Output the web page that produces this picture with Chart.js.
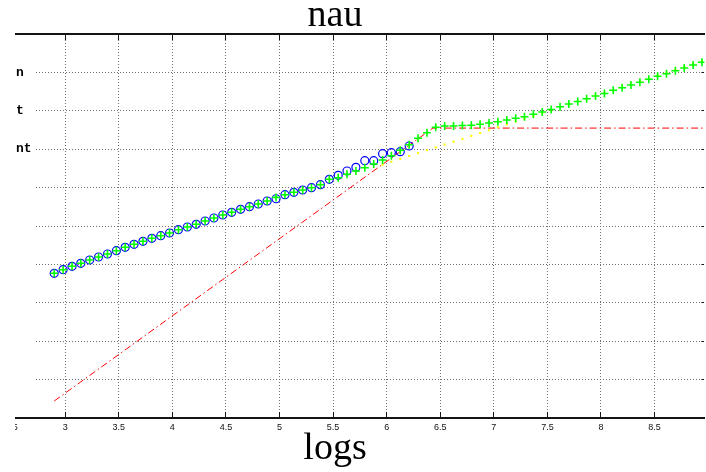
<!DOCTYPE html>
<html>
<head>
<meta charset="utf-8">
<script src="https://cdn.jsdelivr.net/npm/chart.js@4/dist/chart.umd.min.js"></script>
<style>
  html, body { margin: 0; padding: 0; background: #fff; overflow: hidden; }
  #wrap { position: relative; width: 706px; height: 472px; overflow: hidden; background: #fff; }
  #c { position: absolute; left: -40px; top: 0; clip-path: inset(0 0 0 55px); }
</style>
</head>
<body>
<div id="wrap"><canvas id="c" width="750" height="472"></canvas></div>
<script>
// x positions (logs) shared by every sampled series
const logs = [
  2.898, 2.981, 3.064, 3.146, 3.229, 3.312, 3.395, 3.478, 3.560, 3.643,
  3.726, 3.809, 3.892, 3.974, 4.057, 4.140, 4.223, 4.306, 4.388, 4.471,
  4.554, 4.637, 4.720, 4.802, 4.885, 4.968, 5.051, 5.134, 5.216, 5.299,
  5.382, 5.465, 5.548, 5.630, 5.713, 5.796, 5.879, 5.962, 6.044, 6.127,
  6.210, 6.293, 6.376, 6.458, 6.541, 6.624, 6.707, 6.790, 6.872, 6.955,
  7.038, 7.121, 7.204, 7.286, 7.369, 7.452, 7.535, 7.618, 7.700, 7.783,
  7.866, 7.949, 8.032, 8.114, 8.197, 8.280, 8.363, 8.446, 8.528, 8.611,
  8.694, 8.777, 8.860, 8.942
];

// blue circles (first 41 positions)
const circleVals = [
  3.768, 3.862, 3.951, 4.029, 4.115, 4.193, 4.271, 4.357, 4.445, 4.523,
  4.602, 4.680, 4.747, 4.818, 4.904, 4.974, 5.044, 5.130, 5.208, 5.286,
  5.357, 5.435, 5.503, 5.573, 5.651, 5.710, 5.815, 5.878, 5.938, 5.997,
  6.076, 6.216, 6.320, 6.432, 6.529, 6.701, 6.701, 6.883, 6.909, 6.935,
  7.083
];

// green crosses (all positions)
const crossVals = [
  3.768, 3.862, 3.951, 4.029, 4.115, 4.193, 4.271, 4.357, 4.445, 4.523,
  4.602, 4.680, 4.747, 4.818, 4.904, 4.974, 5.044, 5.130, 5.208, 5.286,
  5.357, 5.435, 5.503, 5.573, 5.651, 5.745, 5.815, 5.878, 5.938, 5.997,
  6.076, 6.216, 6.258, 6.346, 6.432, 6.518, 6.615, 6.719, 6.831, 6.971,
  7.117, 7.284, 7.430, 7.570, 7.604, 7.604, 7.617, 7.625, 7.648, 7.682,
  7.716, 7.760, 7.805, 7.846, 7.909, 7.969, 8.034, 8.104, 8.177, 8.242,
  8.315, 8.385, 8.451, 8.534, 8.602, 8.672, 8.742, 8.820, 8.898, 8.966,
  9.044, 9.115, 9.193, 9.263
];

// yellow tail fit, sampled from position 37 onward
const fitStart = 37;
const fitVals = [
  6.599, 6.674, 6.748, 6.823, 6.897, 6.972, 7.047, 7.122, 7.197, 7.271,
  7.346, 7.421, 7.495, 7.570, 7.645, 7.720, 7.794, 7.869, 7.944, 8.018,
  8.093, 8.168, 8.242, 8.317, 8.392, 8.467, 8.541, 8.616, 8.691, 8.765,
  8.840, 8.915, 8.989, 9.064, 9.139, 9.214, 9.288
];

// red broken-line fit: rising segment then plateau
const brokenX = [2.898, 6.432, 8.965];
const brokenY = [0.443, 7.550, 7.550];

// axis ticks
const xTickVals = [2.5, 3, 3.5, 4, 4.5, 5, 5.5, 6, 6.5, 7, 7.5, 8, 8.5];
const yTickVals = [0, 1, 2, 3, 4, 5, 6, 7, 8, 9, 10];
const yTickText = ['', '', '', '', '', '', '', 'nt', 't', 'n', ''];

const X_MIN = 2.532, X_MAX = 8.965;
const GRID = '#707070';
const AXIS = '#151515';

const toPts = (xs, ys, off = 0) => ys.map((y, i) => ({ x: xs[i + off], y }));

// blank strip along the left edge of the plot where grid lines do not run
const leftStrip = {
  id: 'leftStrip',
  beforeDatasetsDraw(chart) {
    const { ctx, chartArea: a } = chart;
    ctx.save();
    ctx.fillStyle = '#fff';
    ctx.fillRect(a.left, a.top + 1, 21, a.bottom - a.top - 2);
    ctx.restore();
  }
};

const setTicks = vals => s => { s.ticks = vals.map(v => ({ value: v })); };

new Chart(document.getElementById('c'), {
  type: 'scatter',
  data: {
    datasets: [
      {
        label: 'counts', data: toPts(logs, crossVals), order: 1,
        pointStyle: 'cross', pointRadius: 4, borderColor: '#00ff00', borderWidth: 1.6,
        showLine: false
      },
      {
        label: 'mean', data: toPts(logs, circleVals), order: 2,
        pointStyle: 'circle', pointRadius: 4, borderColor: '#0000ff',
        backgroundColor: 'rgba(0,0,0,0)', borderWidth: 1.2, showLine: false
      },
      {
        label: 'tail fit', data: toPts(logs, fitVals, fitStart), order: 3,
        pointStyle: 'rect', pointRadius: 1.5, backgroundColor: '#ffff00',
        borderColor: '#ffff00', borderWidth: 0, showLine: false
      },
      {
        label: 'broken fit', data: toPts(brokenX, brokenY), order: 4,
        showLine: true, borderColor: '#ff0000', borderWidth: 1,
        borderDash: [7, 3, 1.5, 3], pointRadius: 0, fill: false
      }
    ]
  },
  options: {
    responsive: false,
    animation: false,
    events: [],
    devicePixelRatio: 1,
    layout: { padding: 0 },
    plugins: {
      legend: { display: false },
      tooltip: { enabled: false },
      title: {
        display: true, text: 'nau', color: '#000',
        font: { family: 'Liberation Serif', size: 38, weight: 'normal', lineHeight: 0.8 },
        padding: { top: 0.5, bottom: 0 }
      },
      subtitle: {
        display: true, position: 'bottom', text: 'logs', color: '#000',
        font: { family: 'Liberation Serif', size: 38, weight: 'normal', lineHeight: 0.8 },
        padding: { top: 0, bottom: 7.7 }
      }
    },
    scales: {
      x: {
        type: 'linear', position: 'bottom', min: X_MIN, max: X_MAX,
        afterBuildTicks: setTicks(xTickVals),
        afterFit: s => { s.height = 15.9; },
        ticks: {
          autoSkip: false, maxRotation: 0, padding: 10.5, color: '#111',
          font: { family: 'Liberation Sans', size: 9 },
          callback: v => String(v)
        },
        grid: { color: GRID, lineWidth: 1, tickLength: -6, tickColor: AXIS, tickWidth: 1 },
        border: { display: true, color: AXIS, width: 2, dash: [1, 2] }
      },
      x2: {
        type: 'linear', position: 'top', min: X_MIN, max: X_MAX,
        afterBuildTicks: setTicks(xTickVals),
        afterFit: s => { s.height = 3.1; },
        ticks: { display: false },
        grid: { drawOnChartArea: false, tickLength: -6, tickColor: AXIS, tickWidth: 1 },
        border: { display: true, color: AXIS, width: 2 }
      },
      y: {
        type: 'linear', position: 'left', min: 0, max: 10,
        afterBuildTicks: setTicks(yTickVals),
        afterFit: s => { s.width = 55; },
        ticks: {
          mirror: true, padding: 1, z: 1, color: '#000',
          font: { family: 'Liberation Mono', size: 13, weight: 'bold' },
          callback: v => yTickText[v] || ''
        },
        grid: {
          drawTicks: false, lineWidth: 1,
          color: c => (c.tick && (c.tick.value === 0 || c.tick.value === 10)) ? 'rgba(0,0,0,0)' : GRID
        },
        border: { display: false, dash: [1, 2] }
      },
      y2: {
        type: 'linear', position: 'right', min: 0, max: 10,
        afterBuildTicks: setTicks(yTickVals),
        afterFit: s => { s.width = 3; },
        ticks: { display: false },
        grid: { drawOnChartArea: false, tickLength: -3, tickColor: AXIS, tickWidth: 1 },
        border: { display: false }
      }
    }
  },
  plugins: [leftStrip]
});
</script>
</body>
</html>
